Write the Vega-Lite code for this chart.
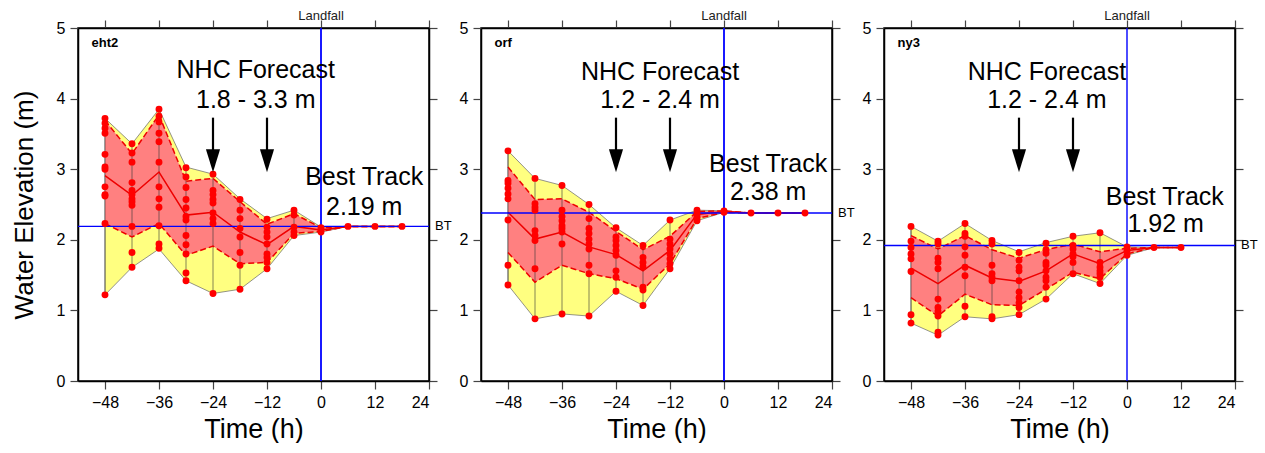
{
  "$schema": "https://vega.github.io/schema/vega-lite/v6.json",
  "padding": {"left": 10, "top": 9, "right": 0, "bottom": 0},
  "spacing": 5,
  "config": {
    "font": "Liberation Sans",
    "view": {"stroke": "#000000", "strokeWidth": 1.5},
    "axis": {"grid": false, "domainColor": "#000000", "domainWidth": 1.5, "tickColor": "#444444", "tickWidth": 1.2, "tickSize": 8, "labelColor": "#000000", "labelFontSize": 16, "labelPadding": 5, "titleColor": "#000000", "titleFontWeight": "normal"},
    "text": {"font": "Liberation Sans"}
  },
  "datasets": {
    "stats": [
      {"panel": "eht2", "t": -48, "ymin": 1.22, "lo": 2.23, "med": 2.91, "hi": 3.69, "ymax": 3.72},
      {"panel": "eht2", "t": -42, "ymin": 1.61, "lo": 2.04, "med": 2.63, "hi": 3.22, "ymax": 3.36},
      {"panel": "eht2", "t": -36, "ymin": 1.87, "lo": 2.23, "med": 2.96, "hi": 3.77, "ymax": 3.85},
      {"panel": "eht2", "t": -30, "ymin": 1.42, "lo": 1.78, "med": 2.35, "hi": 2.83, "ymax": 3.03},
      {"panel": "eht2", "t": -24, "ymin": 1.24, "lo": 1.91, "med": 2.39, "hi": 2.87, "ymax": 2.93},
      {"panel": "eht2", "t": -18, "ymin": 1.30, "lo": 1.66, "med": 2.11, "hi": 2.54, "ymax": 2.58},
      {"panel": "eht2", "t": -12, "ymin": 1.59, "lo": 1.68, "med": 1.93, "hi": 2.22, "ymax": 2.30},
      {"panel": "eht2", "t": -6, "ymin": 2.06, "lo": 2.09, "med": 2.19, "hi": 2.37, "ymax": 2.42},
      {"panel": "eht2", "t": 0, "ymin": 2.11, "lo": 2.12, "med": 2.14, "hi": 2.17, "ymax": 2.18},
      {"panel": "eht2", "t": 6, "ymin": 2.19, "lo": 2.19, "med": 2.19, "hi": 2.19, "ymax": 2.19},
      {"panel": "eht2", "t": 12, "ymin": 2.19, "lo": 2.19, "med": 2.19, "hi": 2.19, "ymax": 2.19},
      {"panel": "eht2", "t": 18, "ymin": 2.19, "lo": 2.19, "med": 2.19, "hi": 2.19, "ymax": 2.19},
      {"panel": "orf", "t": -48, "ymin": 1.36, "lo": 1.82, "med": 2.39, "hi": 3.03, "ymax": 3.26},
      {"panel": "orf", "t": -42, "ymin": 0.88, "lo": 1.40, "med": 2.01, "hi": 2.57, "ymax": 2.87},
      {"panel": "orf", "t": -36, "ymin": 0.95, "lo": 1.64, "med": 2.11, "hi": 2.58, "ymax": 2.77},
      {"panel": "orf", "t": -30, "ymin": 0.92, "lo": 1.52, "med": 1.90, "hi": 2.39, "ymax": 2.50},
      {"panel": "orf", "t": -24, "ymin": 1.27, "lo": 1.45, "med": 1.79, "hi": 2.12, "ymax": 2.17},
      {"panel": "orf", "t": -18, "ymin": 1.07, "lo": 1.30, "med": 1.56, "hi": 1.86, "ymax": 1.92},
      {"panel": "orf", "t": -12, "ymin": 1.59, "lo": 1.66, "med": 1.85, "hi": 2.05, "ymax": 2.28},
      {"panel": "orf", "t": -6, "ymin": 2.27, "lo": 2.30, "med": 2.36, "hi": 2.40, "ymax": 2.42},
      {"panel": "orf", "t": 0, "ymin": 2.39, "lo": 2.39, "med": 2.40, "hi": 2.41, "ymax": 2.41},
      {"panel": "orf", "t": 6, "ymin": 2.38, "lo": 2.38, "med": 2.38, "hi": 2.38, "ymax": 2.38},
      {"panel": "orf", "t": 12, "ymin": 2.38, "lo": 2.38, "med": 2.38, "hi": 2.38, "ymax": 2.38},
      {"panel": "orf", "t": 18, "ymin": 2.38, "lo": 2.38, "med": 2.38, "hi": 2.38, "ymax": 2.38},
      {"panel": "ny3", "t": -48, "ymin": 0.82, "lo": 1.18, "med": 1.60, "hi": 2.06, "ymax": 2.19},
      {"panel": "ny3", "t": -42, "ymin": 0.65, "lo": 0.92, "med": 1.38, "hi": 1.87, "ymax": 1.98},
      {"panel": "ny3", "t": -36, "ymin": 0.91, "lo": 1.23, "med": 1.64, "hi": 2.06, "ymax": 2.23},
      {"panel": "ny3", "t": -30, "ymin": 0.88, "lo": 1.08, "med": 1.46, "hi": 1.86, "ymax": 1.99},
      {"panel": "ny3", "t": -24, "ymin": 0.94, "lo": 1.07, "med": 1.41, "hi": 1.74, "ymax": 1.83},
      {"panel": "ny3", "t": -18, "ymin": 1.16, "lo": 1.30, "med": 1.56, "hi": 1.86, "ymax": 1.96},
      {"panel": "ny3", "t": -12, "ymin": 1.52, "lo": 1.54, "med": 1.80, "hi": 1.94, "ymax": 2.05},
      {"panel": "ny3", "t": -6, "ymin": 1.38, "lo": 1.45, "med": 1.66, "hi": 1.83, "ymax": 2.10},
      {"panel": "ny3", "t": 0, "ymin": 1.78, "lo": 1.80, "med": 1.85, "hi": 1.88, "ymax": 1.90},
      {"panel": "ny3", "t": 6, "ymin": 1.89, "lo": 1.89, "med": 1.89, "hi": 1.89, "ymax": 1.89},
      {"panel": "ny3", "t": 12, "ymin": 1.89, "lo": 1.89, "med": 1.89, "hi": 1.89, "ymax": 1.89}
    ],
    "pts": [
      {"panel": "eht2", "t": -48, "v": 3.72}, {"panel": "eht2", "t": -48, "v": 3.65}, {"panel": "eht2", "t": -48, "v": 3.58}, {"panel": "eht2", "t": -48, "v": 3.51}, {"panel": "eht2", "t": -48, "v": 3.21}, {"panel": "eht2", "t": -48, "v": 3.03}, {"panel": "eht2", "t": -48, "v": 3.0}, {"panel": "eht2", "t": -48, "v": 2.75}, {"panel": "eht2", "t": -48, "v": 2.64}, {"panel": "eht2", "t": -48, "v": 2.62}, {"panel": "eht2", "t": -48, "v": 2.23}, {"panel": "eht2", "t": -48, "v": 1.22},
      {"panel": "eht2", "t": -42, "v": 3.36}, {"panel": "eht2", "t": -42, "v": 3.23}, {"panel": "eht2", "t": -42, "v": 3.10}, {"panel": "eht2", "t": -42, "v": 2.81}, {"panel": "eht2", "t": -42, "v": 2.70}, {"panel": "eht2", "t": -42, "v": 2.64}, {"panel": "eht2", "t": -42, "v": 2.58}, {"panel": "eht2", "t": -42, "v": 2.54}, {"panel": "eht2", "t": -42, "v": 2.49}, {"panel": "eht2", "t": -42, "v": 2.19}, {"panel": "eht2", "t": -42, "v": 1.82}, {"panel": "eht2", "t": -42, "v": 1.61},
      {"panel": "eht2", "t": -36, "v": 3.85}, {"panel": "eht2", "t": -36, "v": 3.75}, {"panel": "eht2", "t": -36, "v": 3.67}, {"panel": "eht2", "t": -36, "v": 3.51}, {"panel": "eht2", "t": -36, "v": 3.39}, {"panel": "eht2", "t": -36, "v": 3.10}, {"panel": "eht2", "t": -36, "v": 2.75}, {"panel": "eht2", "t": -36, "v": 2.58}, {"panel": "eht2", "t": -36, "v": 2.46}, {"panel": "eht2", "t": -36, "v": 2.20}, {"panel": "eht2", "t": -36, "v": 1.94}, {"panel": "eht2", "t": -36, "v": 1.88},
      {"panel": "eht2", "t": -30, "v": 3.02}, {"panel": "eht2", "t": -30, "v": 2.89}, {"panel": "eht2", "t": -30, "v": 2.74}, {"panel": "eht2", "t": -30, "v": 2.57}, {"panel": "eht2", "t": -30, "v": 2.45}, {"panel": "eht2", "t": -30, "v": 2.33}, {"panel": "eht2", "t": -30, "v": 2.28}, {"panel": "eht2", "t": -30, "v": 2.06}, {"panel": "eht2", "t": -30, "v": 1.93}, {"panel": "eht2", "t": -30, "v": 1.80}, {"panel": "eht2", "t": -30, "v": 1.53}, {"panel": "eht2", "t": -30, "v": 1.42},
      {"panel": "eht2", "t": -24, "v": 2.93}, {"panel": "eht2", "t": -24, "v": 2.70}, {"panel": "eht2", "t": -24, "v": 2.64}, {"panel": "eht2", "t": -24, "v": 2.57}, {"panel": "eht2", "t": -24, "v": 2.52}, {"panel": "eht2", "t": -24, "v": 2.38}, {"panel": "eht2", "t": -24, "v": 2.30}, {"panel": "eht2", "t": -24, "v": 2.23}, {"panel": "eht2", "t": -24, "v": 1.24},
      {"panel": "eht2", "t": -18, "v": 2.57}, {"panel": "eht2", "t": -18, "v": 2.42}, {"panel": "eht2", "t": -18, "v": 2.30}, {"panel": "eht2", "t": -18, "v": 2.16}, {"panel": "eht2", "t": -18, "v": 2.04}, {"panel": "eht2", "t": -18, "v": 1.82}, {"panel": "eht2", "t": -18, "v": 1.64}, {"panel": "eht2", "t": -18, "v": 1.30},
      {"panel": "eht2", "t": -12, "v": 2.29}, {"panel": "eht2", "t": -12, "v": 2.18}, {"panel": "eht2", "t": -12, "v": 2.11}, {"panel": "eht2", "t": -12, "v": 2.04}, {"panel": "eht2", "t": -12, "v": 1.94}, {"panel": "eht2", "t": -12, "v": 1.80}, {"panel": "eht2", "t": -12, "v": 1.75}, {"panel": "eht2", "t": -12, "v": 1.68}, {"panel": "eht2", "t": -12, "v": 1.59},
      {"panel": "eht2", "t": -6, "v": 2.42}, {"panel": "eht2", "t": -6, "v": 2.35}, {"panel": "eht2", "t": -6, "v": 2.18}, {"panel": "eht2", "t": -6, "v": 2.11}, {"panel": "eht2", "t": -6, "v": 2.06},
      {"panel": "eht2", "t": 0, "v": 2.17}, {"panel": "eht2", "t": 0, "v": 2.14}, {"panel": "eht2", "t": 0, "v": 2.11},
      {"panel": "eht2", "t": 6, "v": 2.19}, {"panel": "eht2", "t": 12, "v": 2.19}, {"panel": "eht2", "t": 18, "v": 2.19},
      {"panel": "orf", "t": -48, "v": 3.26}, {"panel": "orf", "t": -48, "v": 2.84}, {"panel": "orf", "t": -48, "v": 2.80}, {"panel": "orf", "t": -48, "v": 2.73}, {"panel": "orf", "t": -48, "v": 2.65}, {"panel": "orf", "t": -48, "v": 2.58}, {"panel": "orf", "t": -48, "v": 2.28}, {"panel": "orf", "t": -48, "v": 1.64}, {"panel": "orf", "t": -48, "v": 1.36},
      {"panel": "orf", "t": -42, "v": 2.87}, {"panel": "orf", "t": -42, "v": 2.51}, {"panel": "orf", "t": -42, "v": 2.46}, {"panel": "orf", "t": -42, "v": 2.42}, {"panel": "orf", "t": -42, "v": 2.13}, {"panel": "orf", "t": -42, "v": 2.06}, {"panel": "orf", "t": -42, "v": 1.99}, {"panel": "orf", "t": -42, "v": 1.59}, {"panel": "orf", "t": -42, "v": 0.88},
      {"panel": "orf", "t": -36, "v": 2.77}, {"panel": "orf", "t": -36, "v": 2.42}, {"panel": "orf", "t": -36, "v": 2.33}, {"panel": "orf", "t": -36, "v": 2.27}, {"panel": "orf", "t": -36, "v": 2.20}, {"panel": "orf", "t": -36, "v": 2.16}, {"panel": "orf", "t": -36, "v": 2.11}, {"panel": "orf", "t": -36, "v": 1.94}, {"panel": "orf", "t": -36, "v": 0.95},
      {"panel": "orf", "t": -30, "v": 2.50}, {"panel": "orf", "t": -30, "v": 2.30}, {"panel": "orf", "t": -30, "v": 2.16}, {"panel": "orf", "t": -30, "v": 2.09}, {"panel": "orf", "t": -30, "v": 2.01}, {"panel": "orf", "t": -30, "v": 1.94}, {"panel": "orf", "t": -30, "v": 1.87}, {"panel": "orf", "t": -30, "v": 1.64}, {"panel": "orf", "t": -30, "v": 1.52}, {"panel": "orf", "t": -30, "v": 0.92},
      {"panel": "orf", "t": -24, "v": 2.17}, {"panel": "orf", "t": -24, "v": 2.04}, {"panel": "orf", "t": -24, "v": 1.99}, {"panel": "orf", "t": -24, "v": 1.92}, {"panel": "orf", "t": -24, "v": 1.85}, {"panel": "orf", "t": -24, "v": 1.78}, {"panel": "orf", "t": -24, "v": 1.56}, {"panel": "orf", "t": -24, "v": 1.47}, {"panel": "orf", "t": -24, "v": 1.27},
      {"panel": "orf", "t": -18, "v": 1.92}, {"panel": "orf", "t": -18, "v": 1.75}, {"panel": "orf", "t": -18, "v": 1.68}, {"panel": "orf", "t": -18, "v": 1.62}, {"panel": "orf", "t": -18, "v": 1.33}, {"panel": "orf", "t": -18, "v": 1.29}, {"panel": "orf", "t": -18, "v": 1.07},
      {"panel": "orf", "t": -12, "v": 2.28}, {"panel": "orf", "t": -12, "v": 2.01}, {"panel": "orf", "t": -12, "v": 1.94}, {"panel": "orf", "t": -12, "v": 1.87}, {"panel": "orf", "t": -12, "v": 1.80}, {"panel": "orf", "t": -12, "v": 1.73}, {"panel": "orf", "t": -12, "v": 1.66}, {"panel": "orf", "t": -12, "v": 1.59},
      {"panel": "orf", "t": -6, "v": 2.42}, {"panel": "orf", "t": -6, "v": 2.37}, {"panel": "orf", "t": -6, "v": 2.33}, {"panel": "orf", "t": -6, "v": 2.30}, {"panel": "orf", "t": -6, "v": 2.27},
      {"panel": "orf", "t": 0, "v": 2.41}, {"panel": "orf", "t": 0, "v": 2.39},
      {"panel": "orf", "t": 6, "v": 2.38}, {"panel": "orf", "t": 12, "v": 2.38}, {"panel": "orf", "t": 18, "v": 2.38},
      {"panel": "ny3", "t": -48, "v": 2.19}, {"panel": "ny3", "t": -48, "v": 1.98}, {"panel": "ny3", "t": -48, "v": 1.89}, {"panel": "ny3", "t": -48, "v": 1.80}, {"panel": "ny3", "t": -48, "v": 1.73}, {"panel": "ny3", "t": -48, "v": 1.55}, {"panel": "ny3", "t": -48, "v": 0.94}, {"panel": "ny3", "t": -48, "v": 0.82},
      {"panel": "ny3", "t": -42, "v": 1.98}, {"panel": "ny3", "t": -42, "v": 1.94}, {"panel": "ny3", "t": -42, "v": 1.74}, {"panel": "ny3", "t": -42, "v": 1.68}, {"panel": "ny3", "t": -42, "v": 1.59}, {"panel": "ny3", "t": -42, "v": 1.16}, {"panel": "ny3", "t": -42, "v": 1.04}, {"panel": "ny3", "t": -42, "v": 0.99}, {"panel": "ny3", "t": -42, "v": 0.92}, {"panel": "ny3", "t": -42, "v": 0.69}, {"panel": "ny3", "t": -42, "v": 0.65},
      {"panel": "ny3", "t": -36, "v": 2.23}, {"panel": "ny3", "t": -36, "v": 2.09}, {"panel": "ny3", "t": -36, "v": 2.05}, {"panel": "ny3", "t": -36, "v": 1.90}, {"panel": "ny3", "t": -36, "v": 1.78}, {"panel": "ny3", "t": -36, "v": 1.61}, {"panel": "ny3", "t": -36, "v": 1.49}, {"panel": "ny3", "t": -36, "v": 1.06}, {"panel": "ny3", "t": -36, "v": 0.91},
      {"panel": "ny3", "t": -30, "v": 1.99}, {"panel": "ny3", "t": -30, "v": 1.94}, {"panel": "ny3", "t": -30, "v": 1.64}, {"panel": "ny3", "t": -30, "v": 1.52}, {"panel": "ny3", "t": -30, "v": 1.47}, {"panel": "ny3", "t": -30, "v": 1.42}, {"panel": "ny3", "t": -30, "v": 0.91}, {"panel": "ny3", "t": -30, "v": 0.88},
      {"panel": "ny3", "t": -24, "v": 1.82}, {"panel": "ny3", "t": -24, "v": 1.71}, {"panel": "ny3", "t": -24, "v": 1.61}, {"panel": "ny3", "t": -24, "v": 1.56}, {"panel": "ny3", "t": -24, "v": 1.42}, {"panel": "ny3", "t": -24, "v": 1.26}, {"panel": "ny3", "t": -24, "v": 1.18}, {"panel": "ny3", "t": -24, "v": 1.11}, {"panel": "ny3", "t": -24, "v": 1.04}, {"panel": "ny3", "t": -24, "v": 0.94},
      {"panel": "ny3", "t": -18, "v": 1.95}, {"panel": "ny3", "t": -18, "v": 1.86}, {"panel": "ny3", "t": -18, "v": 1.81}, {"panel": "ny3", "t": -18, "v": 1.68}, {"panel": "ny3", "t": -18, "v": 1.64}, {"panel": "ny3", "t": -18, "v": 1.56}, {"panel": "ny3", "t": -18, "v": 1.47}, {"panel": "ny3", "t": -18, "v": 1.42}, {"panel": "ny3", "t": -18, "v": 1.33}, {"panel": "ny3", "t": -18, "v": 1.16},
      {"panel": "ny3", "t": -12, "v": 2.05}, {"panel": "ny3", "t": -12, "v": 1.92}, {"panel": "ny3", "t": -12, "v": 1.87}, {"panel": "ny3", "t": -12, "v": 1.80}, {"panel": "ny3", "t": -12, "v": 1.76}, {"panel": "ny3", "t": -12, "v": 1.68}, {"panel": "ny3", "t": -12, "v": 1.52},
      {"panel": "ny3", "t": -6, "v": 2.10}, {"panel": "ny3", "t": -6, "v": 1.68}, {"panel": "ny3", "t": -6, "v": 1.61}, {"panel": "ny3", "t": -6, "v": 1.56}, {"panel": "ny3", "t": -6, "v": 1.52}, {"panel": "ny3", "t": -6, "v": 1.47}, {"panel": "ny3", "t": -6, "v": 1.38},
      {"panel": "ny3", "t": 0, "v": 1.90}, {"panel": "ny3", "t": 0, "v": 1.85}, {"panel": "ny3", "t": 0, "v": 1.78},
      {"panel": "ny3", "t": 6, "v": 1.89}, {"panel": "ny3", "t": 12, "v": 1.89}
    ],
    "bt": [
      {"panel": "eht2", "bt": 2.19},
      {"panel": "orf", "bt": 2.38},
      {"panel": "ny3", "bt": 1.92}
    ],
    "arrows": [{"t": -24}, {"t": -12}],
    "notes": [
      {"panel": "eht2", "t": -14.5, "v": 4.29, "label": "NHC Forecast"},
      {"panel": "eht2", "t": -14.5, "v": 3.87, "label": "1.8 - 3.3 m"},
      {"panel": "eht2", "t": 9.6, "v": 2.78, "label": "Best Track"},
      {"panel": "eht2", "t": 9.6, "v": 2.35, "label": "2.19 m"},
      {"panel": "orf", "t": -14.2, "v": 4.27, "label": "NHC Forecast"},
      {"panel": "orf", "t": -14.2, "v": 3.87, "label": "1.2 - 2.4 m"},
      {"panel": "orf", "t": 9.8, "v": 2.96, "label": "Best Track"},
      {"panel": "orf", "t": 9.8, "v": 2.56, "label": "2.38 m"},
      {"panel": "ny3", "t": -17.8, "v": 4.27, "label": "NHC Forecast"},
      {"panel": "ny3", "t": -17.8, "v": 3.87, "label": "1.2 - 2.4 m"},
      {"panel": "ny3", "t": 8.4, "v": 2.5, "label": "Best Track"},
      {"panel": "ny3", "t": 8.6, "v": 2.11, "label": "1.92 m"}
    ]
  },
  "hconcat": [
    {
      "width": 351, "height": 353,
      "resolve": {"axis": {"x": "independent", "y": "independent"}},
      "layer": [
        {"data": {"name": "stats"}, "transform": [{"filter": "datum.panel === 'eht2'"}],
         "mark": {"type": "area", "fill": "#ffff80", "stroke": "#666666", "strokeWidth": 0.7},
         "encoding": {
           "x": {"field": "t", "type": "quantitative", "scale": {"domain": [-54, 24], "nice": false, "zero": false}, "axis": {"orient": "bottom", "values": [-48, -36, -24, -12, 0, 12, 24], "title": "Time (h)", "titleFontSize": 27, "titlePadding": 6}},
           "y": {"field": "ymax", "type": "quantitative", "scale": {"domain": [0, 5], "nice": false, "zero": false}, "axis": {"orient": "left", "values": [0, 1, 2, 3, 4, 5], "title": "Water Elevation (m)", "titleFontSize": 26, "titlePadding": 19}},
           "y2": {"field": "ymin"}}},
        {"data": {"name": "stats"}, "transform": [{"filter": "datum.panel === 'eht2'"}],
         "mark": {"type": "area", "fill": "#ff8080"},
         "encoding": {
           "x": {"field": "t", "type": "quantitative", "axis": {"orient": "top", "values": [-48, -36, -24, -12, 0, 12, 24], "labels": false, "title": null}},
           "y": {"field": "hi", "type": "quantitative", "axis": {"orient": "right", "values": [0, 1, 2, 3, 4, 5], "labels": false, "title": null}},
           "y2": {"field": "lo"}}},
        {"data": {"name": "stats"}, "transform": [{"filter": "datum.panel === 'eht2'"}],
         "mark": {"type": "rule", "color": "#333333", "strokeWidth": 0.6},
         "encoding": {"x": {"field": "t", "type": "quantitative", "axis": null}, "y": {"field": "ymin", "type": "quantitative", "axis": null}, "y2": {"field": "ymax"}}},
        {"data": {"name": "stats"}, "transform": [{"filter": "datum.panel === 'eht2'"}],
         "mark": {"type": "line", "color": "#ee0000", "strokeWidth": 1.5, "strokeDash": [6, 3]},
         "encoding": {"x": {"field": "t", "type": "quantitative", "axis": null}, "y": {"field": "hi", "type": "quantitative", "axis": null}}},
        {"data": {"name": "stats"}, "transform": [{"filter": "datum.panel === 'eht2'"}],
         "mark": {"type": "line", "color": "#ee0000", "strokeWidth": 1.5, "strokeDash": [6, 3]},
         "encoding": {"x": {"field": "t", "type": "quantitative", "axis": null}, "y": {"field": "lo", "type": "quantitative", "axis": null}}},
        {"data": {"name": "stats"}, "transform": [{"filter": "datum.panel === 'eht2'"}],
         "mark": {"type": "line", "color": "#ee0000", "strokeWidth": 1.5},
         "encoding": {"x": {"field": "t", "type": "quantitative", "axis": null}, "y": {"field": "med", "type": "quantitative", "axis": null}}},
        {"data": {"name": "bt"}, "transform": [{"filter": "datum.panel === 'eht2'"}],
         "mark": {"type": "rule", "color": "#0000ff", "strokeWidth": 1.4},
         "encoding": {"y": {"field": "bt", "type": "quantitative", "axis": null}}},
        {"data": {"name": "bt"}, "transform": [{"filter": "datum.panel === 'eht2'"}],
         "mark": {"type": "rule", "color": "#0000ff", "strokeWidth": 1.8},
         "encoding": {"x": {"datum": 0, "type": "quantitative", "axis": null}}},
        {"data": {"name": "pts"}, "transform": [{"filter": "datum.panel === 'eht2'"}],
         "mark": {"type": "circle", "color": "#ff0000", "size": 48, "opacity": 1},
         "encoding": {"x": {"field": "t", "type": "quantitative", "axis": null}, "y": {"field": "v", "type": "quantitative", "axis": null}}},
        {"data": {"name": "arrows"},
         "mark": {"type": "rule", "color": "#000000", "strokeWidth": 2.2},
         "encoding": {"x": {"field": "t", "type": "quantitative", "axis": null}, "y": {"datum": 3.73, "type": "quantitative", "axis": null}, "y2": {"datum": 3.25}}},
        {"data": {"name": "arrows"},
         "mark": {"type": "point", "shape": "M-0.62,-1L0.62,-1L0,1Z", "filled": true, "color": "#000000", "size": 520, "opacity": 1},
         "encoding": {"x": {"field": "t", "type": "quantitative", "axis": null}, "y": {"datum": 3.12, "type": "quantitative", "axis": null}}},
        {"data": {"name": "notes"}, "transform": [{"filter": "datum.panel === 'eht2'"}],
         "mark": {"type": "text", "fontSize": 25, "align": "center", "baseline": "alphabetic", "color": "#000000"},
         "encoding": {"x": {"field": "t", "type": "quantitative", "axis": null}, "y": {"field": "v", "type": "quantitative", "axis": null}, "text": {"field": "label"}}},
        {"data": {"name": "bt"}, "transform": [{"filter": "datum.panel === 'eht2'"}],
         "mark": {"type": "text", "fontSize": 13, "align": "left", "baseline": "middle", "dx": 6, "color": "#000000", "text": "BT"},
         "encoding": {"x": {"datum": 24, "type": "quantitative", "axis": null}, "y": {"field": "bt", "type": "quantitative", "axis": null}}},
        {"data": {"name": "bt"}, "transform": [{"filter": "datum.panel === 'eht2'"}],
         "mark": {"type": "text", "fontSize": 13, "align": "center", "baseline": "alphabetic", "dy": -8, "color": "#222222", "text": "Landfall"},
         "encoding": {"x": {"datum": 0, "type": "quantitative", "axis": null}, "y": {"datum": 5, "type": "quantitative", "axis": null}}},
        {"data": {"name": "bt"}, "transform": [{"filter": "datum.panel === 'eht2'"}],
         "mark": {"type": "text", "fontSize": 13, "fontWeight": "bold", "align": "left", "baseline": "alphabetic", "color": "#000000"},
         "encoding": {"x": {"datum": -51, "type": "quantitative", "axis": null}, "y": {"datum": 4.73, "type": "quantitative", "axis": null}, "text": {"field": "panel"}}}
      ]
    },
    {
      "width": 351, "height": 353,
      "resolve": {"axis": {"x": "independent", "y": "independent"}},
      "layer": [
        {"data": {"name": "stats"}, "transform": [{"filter": "datum.panel === 'orf'"}],
         "mark": {"type": "area", "fill": "#ffff80", "stroke": "#666666", "strokeWidth": 0.7},
         "encoding": {
           "x": {"field": "t", "type": "quantitative", "scale": {"domain": [-54, 24], "nice": false, "zero": false}, "axis": {"orient": "bottom", "values": [-48, -36, -24, -12, 0, 12, 24], "title": "Time (h)", "titleFontSize": 27, "titlePadding": 6}},
           "y": {"field": "ymax", "type": "quantitative", "scale": {"domain": [0, 5], "nice": false, "zero": false}, "axis": {"orient": "left", "values": [0, 1, 2, 3, 4, 5], "title": null}},
           "y2": {"field": "ymin"}}},
        {"data": {"name": "stats"}, "transform": [{"filter": "datum.panel === 'orf'"}],
         "mark": {"type": "area", "fill": "#ff8080"},
         "encoding": {
           "x": {"field": "t", "type": "quantitative", "axis": {"orient": "top", "values": [-48, -36, -24, -12, 0, 12, 24], "labels": false, "title": null}},
           "y": {"field": "hi", "type": "quantitative", "axis": {"orient": "right", "values": [0, 1, 2, 3, 4, 5], "labels": false, "title": null}},
           "y2": {"field": "lo"}}},
        {"data": {"name": "stats"}, "transform": [{"filter": "datum.panel === 'orf'"}],
         "mark": {"type": "rule", "color": "#333333", "strokeWidth": 0.6},
         "encoding": {"x": {"field": "t", "type": "quantitative", "axis": null}, "y": {"field": "ymin", "type": "quantitative", "axis": null}, "y2": {"field": "ymax"}}},
        {"data": {"name": "stats"}, "transform": [{"filter": "datum.panel === 'orf'"}],
         "mark": {"type": "line", "color": "#ee0000", "strokeWidth": 1.5, "strokeDash": [6, 3]},
         "encoding": {"x": {"field": "t", "type": "quantitative", "axis": null}, "y": {"field": "hi", "type": "quantitative", "axis": null}}},
        {"data": {"name": "stats"}, "transform": [{"filter": "datum.panel === 'orf'"}],
         "mark": {"type": "line", "color": "#ee0000", "strokeWidth": 1.5, "strokeDash": [6, 3]},
         "encoding": {"x": {"field": "t", "type": "quantitative", "axis": null}, "y": {"field": "lo", "type": "quantitative", "axis": null}}},
        {"data": {"name": "stats"}, "transform": [{"filter": "datum.panel === 'orf'"}],
         "mark": {"type": "line", "color": "#ee0000", "strokeWidth": 1.5},
         "encoding": {"x": {"field": "t", "type": "quantitative", "axis": null}, "y": {"field": "med", "type": "quantitative", "axis": null}}},
        {"data": {"name": "bt"}, "transform": [{"filter": "datum.panel === 'orf'"}],
         "mark": {"type": "rule", "color": "#0000ff", "strokeWidth": 1.4},
         "encoding": {"y": {"field": "bt", "type": "quantitative", "axis": null}}},
        {"data": {"name": "bt"}, "transform": [{"filter": "datum.panel === 'orf'"}],
         "mark": {"type": "rule", "color": "#0000ff", "strokeWidth": 1.8},
         "encoding": {"x": {"datum": 0, "type": "quantitative", "axis": null}}},
        {"data": {"name": "pts"}, "transform": [{"filter": "datum.panel === 'orf'"}],
         "mark": {"type": "circle", "color": "#ff0000", "size": 48, "opacity": 1},
         "encoding": {"x": {"field": "t", "type": "quantitative", "axis": null}, "y": {"field": "v", "type": "quantitative", "axis": null}}},
        {"data": {"name": "arrows"},
         "mark": {"type": "rule", "color": "#000000", "strokeWidth": 2.2},
         "encoding": {"x": {"field": "t", "type": "quantitative", "axis": null}, "y": {"datum": 3.73, "type": "quantitative", "axis": null}, "y2": {"datum": 3.25}}},
        {"data": {"name": "arrows"},
         "mark": {"type": "point", "shape": "M-0.62,-1L0.62,-1L0,1Z", "filled": true, "color": "#000000", "size": 520, "opacity": 1},
         "encoding": {"x": {"field": "t", "type": "quantitative", "axis": null}, "y": {"datum": 3.12, "type": "quantitative", "axis": null}}},
        {"data": {"name": "notes"}, "transform": [{"filter": "datum.panel === 'orf'"}],
         "mark": {"type": "text", "fontSize": 25, "align": "center", "baseline": "alphabetic", "color": "#000000"},
         "encoding": {"x": {"field": "t", "type": "quantitative", "axis": null}, "y": {"field": "v", "type": "quantitative", "axis": null}, "text": {"field": "label"}}},
        {"data": {"name": "bt"}, "transform": [{"filter": "datum.panel === 'orf'"}],
         "mark": {"type": "text", "fontSize": 13, "align": "left", "baseline": "middle", "dx": 6, "color": "#000000", "text": "BT"},
         "encoding": {"x": {"datum": 24, "type": "quantitative", "axis": null}, "y": {"field": "bt", "type": "quantitative", "axis": null}}},
        {"data": {"name": "bt"}, "transform": [{"filter": "datum.panel === 'orf'"}],
         "mark": {"type": "text", "fontSize": 13, "align": "center", "baseline": "alphabetic", "dy": -8, "color": "#222222", "text": "Landfall"},
         "encoding": {"x": {"datum": 0, "type": "quantitative", "axis": null}, "y": {"datum": 5, "type": "quantitative", "axis": null}}},
        {"data": {"name": "bt"}, "transform": [{"filter": "datum.panel === 'orf'"}],
         "mark": {"type": "text", "fontSize": 13, "fontWeight": "bold", "align": "left", "baseline": "alphabetic", "color": "#000000"},
         "encoding": {"x": {"datum": -51, "type": "quantitative", "axis": null}, "y": {"datum": 4.73, "type": "quantitative", "axis": null}, "text": {"field": "panel"}}}
      ]
    },
    {
      "width": 351, "height": 353,
      "resolve": {"axis": {"x": "independent", "y": "independent"}},
      "layer": [
        {"data": {"name": "stats"}, "transform": [{"filter": "datum.panel === 'ny3'"}],
         "mark": {"type": "area", "fill": "#ffff80", "stroke": "#666666", "strokeWidth": 0.7},
         "encoding": {
           "x": {"field": "t", "type": "quantitative", "scale": {"domain": [-54, 24], "nice": false, "zero": false}, "axis": {"orient": "bottom", "values": [-48, -36, -24, -12, 0, 12, 24], "title": "Time (h)", "titleFontSize": 27, "titlePadding": 6}},
           "y": {"field": "ymax", "type": "quantitative", "scale": {"domain": [0, 5], "nice": false, "zero": false}, "axis": {"orient": "left", "values": [0, 1, 2, 3, 4, 5], "title": null}},
           "y2": {"field": "ymin"}}},
        {"data": {"name": "stats"}, "transform": [{"filter": "datum.panel === 'ny3'"}],
         "mark": {"type": "area", "fill": "#ff8080"},
         "encoding": {
           "x": {"field": "t", "type": "quantitative", "axis": {"orient": "top", "values": [-48, -36, -24, -12, 0, 12, 24], "labels": false, "title": null}},
           "y": {"field": "hi", "type": "quantitative", "axis": {"orient": "right", "values": [0, 1, 2, 3, 4, 5], "labels": false, "title": null}},
           "y2": {"field": "lo"}}},
        {"data": {"name": "stats"}, "transform": [{"filter": "datum.panel === 'ny3'"}],
         "mark": {"type": "rule", "color": "#333333", "strokeWidth": 0.6},
         "encoding": {"x": {"field": "t", "type": "quantitative", "axis": null}, "y": {"field": "ymin", "type": "quantitative", "axis": null}, "y2": {"field": "ymax"}}},
        {"data": {"name": "stats"}, "transform": [{"filter": "datum.panel === 'ny3'"}],
         "mark": {"type": "line", "color": "#ee0000", "strokeWidth": 1.5, "strokeDash": [6, 3]},
         "encoding": {"x": {"field": "t", "type": "quantitative", "axis": null}, "y": {"field": "hi", "type": "quantitative", "axis": null}}},
        {"data": {"name": "stats"}, "transform": [{"filter": "datum.panel === 'ny3'"}],
         "mark": {"type": "line", "color": "#ee0000", "strokeWidth": 1.5, "strokeDash": [6, 3]},
         "encoding": {"x": {"field": "t", "type": "quantitative", "axis": null}, "y": {"field": "lo", "type": "quantitative", "axis": null}}},
        {"data": {"name": "stats"}, "transform": [{"filter": "datum.panel === 'ny3'"}],
         "mark": {"type": "line", "color": "#ee0000", "strokeWidth": 1.5},
         "encoding": {"x": {"field": "t", "type": "quantitative", "axis": null}, "y": {"field": "med", "type": "quantitative", "axis": null}}},
        {"data": {"name": "bt"}, "transform": [{"filter": "datum.panel === 'ny3'"}],
         "mark": {"type": "rule", "color": "#0000ff", "strokeWidth": 1.4},
         "encoding": {"y": {"field": "bt", "type": "quantitative", "axis": null}}},
        {"data": {"name": "bt"}, "transform": [{"filter": "datum.panel === 'ny3'"}],
         "mark": {"type": "rule", "color": "#0000ff", "strokeWidth": 1.4},
         "encoding": {"x": {"datum": 0, "type": "quantitative", "axis": null}}},
        {"data": {"name": "pts"}, "transform": [{"filter": "datum.panel === 'ny3'"}],
         "mark": {"type": "circle", "color": "#ff0000", "size": 48, "opacity": 1},
         "encoding": {"x": {"field": "t", "type": "quantitative", "axis": null}, "y": {"field": "v", "type": "quantitative", "axis": null}}},
        {"data": {"name": "arrows"},
         "mark": {"type": "rule", "color": "#000000", "strokeWidth": 2.2},
         "encoding": {"x": {"field": "t", "type": "quantitative", "axis": null}, "y": {"datum": 3.73, "type": "quantitative", "axis": null}, "y2": {"datum": 3.25}}},
        {"data": {"name": "arrows"},
         "mark": {"type": "point", "shape": "M-0.62,-1L0.62,-1L0,1Z", "filled": true, "color": "#000000", "size": 520, "opacity": 1},
         "encoding": {"x": {"field": "t", "type": "quantitative", "axis": null}, "y": {"datum": 3.12, "type": "quantitative", "axis": null}}},
        {"data": {"name": "notes"}, "transform": [{"filter": "datum.panel === 'ny3'"}],
         "mark": {"type": "text", "fontSize": 25, "align": "center", "baseline": "alphabetic", "color": "#000000"},
         "encoding": {"x": {"field": "t", "type": "quantitative", "axis": null}, "y": {"field": "v", "type": "quantitative", "axis": null}, "text": {"field": "label"}}},
        {"data": {"name": "bt"}, "transform": [{"filter": "datum.panel === 'ny3'"}],
         "mark": {"type": "text", "fontSize": 13, "align": "left", "baseline": "middle", "dx": 6, "color": "#000000", "text": "BT"},
         "encoding": {"x": {"datum": 24, "type": "quantitative", "axis": null}, "y": {"field": "bt", "type": "quantitative", "axis": null}}},
        {"data": {"name": "bt"}, "transform": [{"filter": "datum.panel === 'ny3'"}],
         "mark": {"type": "text", "fontSize": 13, "align": "center", "baseline": "alphabetic", "dy": -8, "color": "#222222", "text": "Landfall"},
         "encoding": {"x": {"datum": 0, "type": "quantitative", "axis": null}, "y": {"datum": 5, "type": "quantitative", "axis": null}}},
        {"data": {"name": "bt"}, "transform": [{"filter": "datum.panel === 'ny3'"}],
         "mark": {"type": "text", "fontSize": 13, "fontWeight": "bold", "align": "left", "baseline": "alphabetic", "color": "#000000"},
         "encoding": {"x": {"datum": -51, "type": "quantitative", "axis": null}, "y": {"datum": 4.73, "type": "quantitative", "axis": null}, "text": {"field": "panel"}}}
      ]
    }
  ]
}
